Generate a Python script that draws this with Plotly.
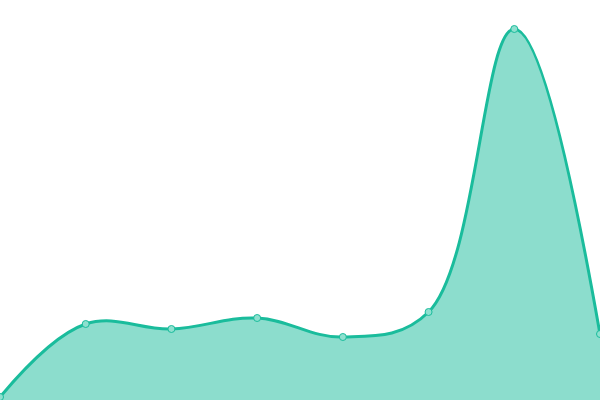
import plotly.graph_objects as go

# Category positions and values
x_vals = [0, 1, 2, 3, 4, 5, 6, 7]
y_vals = [3, 76, 71, 82, 63, 88, 371, 66]

line_color = "#1abc9c"
fill_color = "rgba(26,188,156,0.5)"

fig = go.Figure()
fig.add_trace(go.Scatter(
    x=x_vals, y=y_vals,
    mode="lines+markers",
    line=dict(color=line_color, width=3, shape="spline", smoothing=1.1),
    fill="tozeroy", fillcolor=fill_color,
    marker=dict(size=7, color="#8ee0cf", line=dict(color=line_color, width=1)),
    hoverinfo="skip",
))

fig.update_layout(
    width=600, height=400,
    margin=dict(l=0, r=0, t=0, b=0),
    paper_bgcolor="white", plot_bgcolor="white",
    showlegend=False,
    xaxis=dict(visible=False, range=[0, 7]),
    yaxis=dict(visible=False, range=[0, 400]),
)

# drop the browser's default body margin so the plot fills the window
fig.write_html("out.html", config={"displayModeBar": False},
               post_script="document.body.style.margin='0';document.body.style.overflow='hidden';")
